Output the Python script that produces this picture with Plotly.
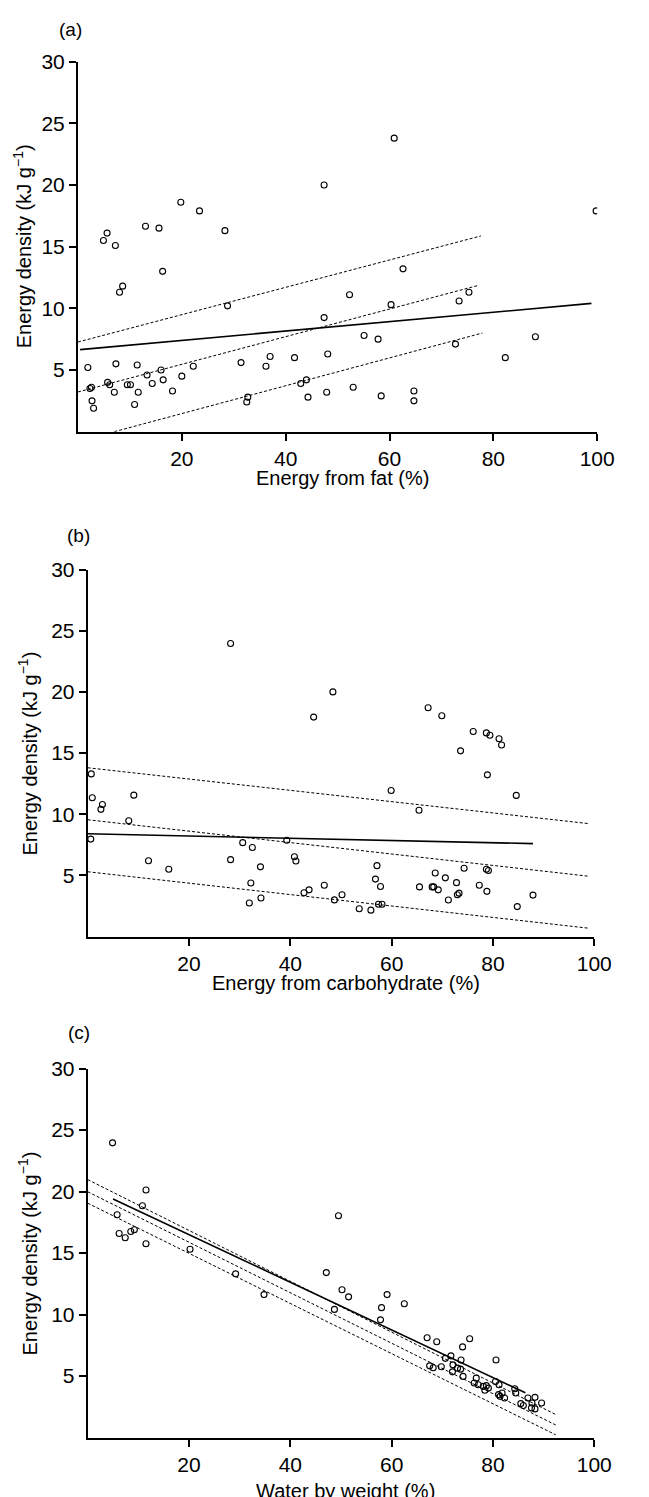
import plotly.graph_objects as go

# ---------------- Panel (a): energy from fat ----------------
fat_x = [60.9, 47.4, 99.8, 19.8, 23.4, 13.0, 15.6, 28.3, 4.9, 5.6, 7.2,
         16.3, 8.0, 8.6, 28.8, 62.6, 52.3, 75.3, 73.4, 60.3, 47.4, 55.1, 57.8, 72.7,
         88.1, 82.3, 48.1, 37.0, 41.7, 31.4, 36.2, 1.9, 7.3, 11.4, 16.0, 22.2, 13.3,
         16.4, 20.0, 14.3, 5.7, 6.1, 9.5, 10.1, 2.6, 2.3, 7.0, 11.6, 18.2, 2.7, 3.0,
         10.9, 32.7, 32.5, 42.9, 44.0, 44.3, 47.9, 53.0, 58.4, 64.7, 64.7]
fat_y = [23.8, 20.0, 17.9, 18.6, 17.9, 16.65, 16.5, 16.3, 15.5, 16.1, 15.1,
         13.0, 11.3, 11.8, 10.2, 13.2, 11.1, 11.3, 10.6, 10.3, 9.25, 7.8, 7.5, 7.1,
         7.7, 6.0, 6.3, 6.1, 6.0, 5.6, 5.3, 5.2, 5.5, 5.4, 5.0, 5.3, 4.6,
         4.2, 4.5, 3.9, 4.0, 3.8, 3.8, 3.8, 3.6, 3.5, 3.2, 3.2, 3.3, 2.5, 1.9,
         2.2, 2.8, 2.4, 3.9, 4.2, 2.8, 3.2, 3.6, 2.9, 3.3, 2.5]
fat_fit_x = [0.4, 98.9]
fat_fit_y = [6.65, 10.4]
fat_dash_upper_x = [0.0, 77.6]
fat_dash_upper_y = [7.27, 15.87]
fat_dash_mid_x = [0.0, 77.0]
fat_dash_mid_y = [3.22, 11.85]
fat_dash_lower_x = [7.0, 77.9]
fat_dash_lower_y = [0.0, 8.0]

# ---------------- Panel (b): energy from carbohydrate ----------------
carb_x = [0.7, 0.9, 2.6, 2.9, 9.1, 8.1, 0.6, 12.0, 16.0,
          28.2, 44.6, 48.4, 59.9, 65.4, 67.2, 69.9, 73.6, 76.1, 78.7, 79.4, 81.2, 81.7,
          78.9, 84.6,
          30.6, 32.5, 39.3, 28.2, 34.1, 40.8, 41.1, 32.2, 31.9, 34.2, 42.7, 43.7, 46.7,
          50.2, 48.7, 53.6, 55.9, 57.4, 58.1, 57.1, 56.8, 57.8, 65.5, 68.0, 68.3, 69.2,
          68.6, 70.6, 71.2, 72.8, 72.97, 73.3, 74.3, 77.3, 78.8, 78.7, 79.1, 84.8, 87.9]
carb_y = [13.3, 11.35, 10.4, 10.8, 11.56, 9.47, 7.97, 6.2, 5.5,
          23.96, 17.94, 20.0, 11.94, 10.33, 18.7, 18.05, 15.18, 16.76, 16.65, 16.46, 16.17, 15.66,
          13.22, 11.54,
          7.68, 7.28, 7.87, 6.29, 5.70, 6.53, 6.18, 4.38, 2.75, 3.15, 3.58, 3.82, 4.2,
          3.42, 3.0, 2.27, 2.16, 2.64, 2.64, 5.8, 4.7, 4.1, 4.06, 4.06, 4.06, 3.82,
          5.2, 4.8, 2.99, 4.41, 3.42, 3.55, 5.59, 4.2, 3.7, 5.5, 5.4, 2.45, 3.39]
carb_fit_x = [0.0, 87.9]
carb_fit_y = [8.4, 7.6]
carb_dash_upper_x = [0.0, 99.0]
carb_dash_upper_y = [13.8, 9.23]
carb_dash_mid_x = [0.0, 99.0]
carb_dash_mid_y = [9.55, 4.93]
carb_dash_lower_x = [0.0, 99.0]
carb_dash_lower_y = [5.3, 0.68]

# ---------------- Panel (c): water by weight ----------------
water_x = [4.9, 11.5, 10.8, 5.8, 6.2, 7.4, 8.5, 9.2, 11.5, 20.2, 29.2, 34.8, 47.1,
           49.5, 48.7, 50.2, 51.5, 59.1, 58.0, 57.8, 62.5,
           67.0, 68.9, 75.4, 74.0, 80.6, 71.7, 70.6, 73.7, 67.5, 68.2, 69.8, 72.1,
           73.0, 73.6, 72.0, 74.1, 76.7, 76.3, 77.1, 78.1, 78.4, 79.1, 78.7, 80.5,
           81.2, 81.1, 81.8, 82.3, 81.4, 84.3, 84.5, 85.5, 86.0, 86.9, 88.3, 87.7,
           87.6, 88.3, 89.6]
water_y = [23.96, 20.12, 18.84, 18.11, 16.59, 16.24, 16.75, 16.89, 15.76, 15.31, 13.31,
           11.62, 13.41, 18.03, 10.42, 12.02, 11.44, 11.62, 10.56, 9.57, 10.88,
           8.11, 7.79, 8.03, 7.37, 6.31, 6.64, 6.44, 6.31, 5.83, 5.67, 5.75, 5.91,
           5.64, 5.56, 5.34, 4.97, 4.83, 4.43, 4.29, 4.16, 3.84, 4.02, 4.22, 4.56,
           4.29, 3.49, 3.62, 3.22, 3.35, 3.97, 3.62, 2.76, 2.60, 3.22, 3.27, 2.81,
           2.41, 2.33, 2.81]
water_fit_x = [5.0, 86.4]
water_fit_y = [19.4, 3.64]
water_dash_upper_x = [0.0, 92.4]
water_dash_upper_y = [20.97, 1.87]
water_dash_mid_x = [0.0, 92.4]
water_dash_mid_y = [19.98, 1.02]
water_dash_lower_x = [0.0, 92.4]
water_dash_lower_y = [19.05, 0.22]

x_ticks = [20, 40, 60, 80, 100]
y_ticks = [5, 10, 15, 20, 25, 30]
panel_labels = ["(a)", "(b)", "(c)"]
x_titles = ["Energy from fat (%)", "Energy from carbohydrate (%)", "Water by weight (%)"]
y_title = "Energy density (kJ g<sup>\u22121</sup>)"

W, H = 649, 1497
OFF = 8  # default page margin of the html body
FONT = "Liberation Sans, Arial, Helvetica, sans-serif"

# window-pixel geometry of each panel: (x0px, x100px, y0px, y30px)
geom = [(80, 614, 423, 50), (90, 611, 932, 562), (90, 611, 1437, 1065)]
label_pos = [(72, 18), (80, 528), (81, 1029)]
xtitle_y = [470, 979, 1491]
ytitle_x = [23, 28, 28]


def fx(p):
    return (p - OFF) / W


def fy(p):
    return 1 - (p - OFF) / H


panels = [
    (fat_x, fat_y, fat_fit_x, fat_fit_y,
     [(fat_dash_upper_x, fat_dash_upper_y), (fat_dash_mid_x, fat_dash_mid_y),
      (fat_dash_lower_x, fat_dash_lower_y)]),
    (carb_x, carb_y, carb_fit_x, carb_fit_y,
     [(carb_dash_upper_x, carb_dash_upper_y), (carb_dash_mid_x, carb_dash_mid_y),
      (carb_dash_lower_x, carb_dash_lower_y)]),
    (water_x, water_y, water_fit_x, water_fit_y,
     [(water_dash_upper_x, water_dash_upper_y), (water_dash_mid_x, water_dash_mid_y),
      (water_dash_lower_x, water_dash_lower_y)]),
]

fig = go.Figure()
annotations = []
layout_axes = {}
for i, (px, py, lx_, ly_, dashes) in enumerate(panels):
    n = "" if i == 0 else str(i + 1)
    xa, ya = "x" + n, "y" + n
    for dx, dy in dashes:
        fig.add_trace(go.Scatter(x=dx, y=dy, mode="lines", xaxis=xa, yaxis=ya,
                                 line=dict(color="black", width=1, dash="3px,2px"),
                                 showlegend=False, hoverinfo="skip"))
    fig.add_trace(go.Scatter(x=lx_, y=ly_, mode="lines", xaxis=xa, yaxis=ya,
                             line=dict(color="black", width=1.6),
                             showlegend=False, hoverinfo="skip"))
    fig.add_trace(go.Scatter(x=px, y=py, mode="markers", xaxis=xa, yaxis=ya,
                             marker=dict(symbol="circle-open", size=6,
                                         color="black", line=dict(width=1.1)),
                             showlegend=False))
    x0, x1, y0, y1 = geom[i]
    common = dict(showline=True, linecolor="black", linewidth=2, ticks="outside",
                  ticklen=7, tickwidth=2, tickcolor="black", showgrid=False,
                  zeroline=False, tickfont=dict(family=FONT, size=21, color="black"))
    layout_axes["xaxis" + n] = dict(common, domain=[fx(x0), fx(x1)], range=[0, 100],
                                    tickvals=x_ticks, anchor=ya)
    layout_axes["yaxis" + n] = dict(common, domain=[fy(y0), fy(y1)],
                                    range=[0, 30], tickvals=y_ticks, anchor=xa)
    lx, ly = label_pos[i]
    annotations.append(dict(text=panel_labels[i], x=fx(lx), y=fy(ly), xref="paper",
                            yref="paper", showarrow=False, xanchor="center",
                            yanchor="middle", font=dict(family=FONT, size=19, color="black")))
    annotations.append(dict(text=x_titles[i], x=fx((x0 + x1) / 2 + 5),
                            y=fy(xtitle_y[i]), xref="paper", yref="paper",
                            showarrow=False, xanchor="center", yanchor="middle",
                            font=dict(family=FONT, size=20, color="black")))
    annotations.append(dict(text=y_title, x=fx(ytitle_x[i]), y=fy((y0 + y1) / 2),
                            xref="paper", yref="paper", showarrow=False, textangle=-90,
                            xanchor="center", yanchor="middle",
                            font=dict(family=FONT, size=20, color="black")))

fig.update_layout(width=W, height=H, margin=dict(l=0, r=0, t=0, b=0),
                  paper_bgcolor="white", plot_bgcolor="white",
                  annotations=annotations, **layout_axes)
fig.write_html("out.html")
